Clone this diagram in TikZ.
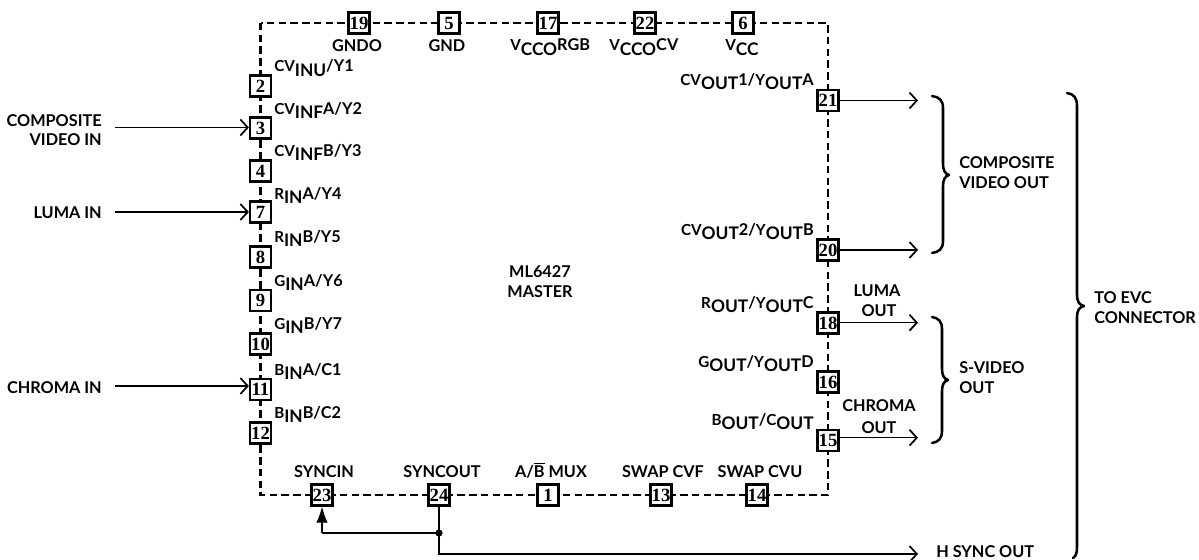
\documentclass[tikz,border=0pt]{standalone}
\usepackage{fontspec}
\usetikzlibrary{arrows.meta}
\setmainfont{Lato}[BoldFont={Lato Bold}]
\newfontfamily\pinfont{Liberation Serif}[BoldFont={Liberation Serif Bold}]
\newcommand{\lo}[1]{\raisebox{-3.5pt}{\fontsize{13pt}{14pt}\selectfont #1}}
\newcommand{\sm}[1]{{\fontsize{11.4pt}{14pt}\selectfont #1}}
\tikzset{
  pin/.style={draw,line width=1.9pt,fill=white,minimum size=15.5pt,inner sep=0pt,font=\pinfont\bfseries\fontsize{14pt}{14pt}\selectfont},
  lab/.style={inner sep=0pt,font=\bfseries\fontsize{12.2pt}{14pt}\selectfont,text depth=0pt},
  lbl/.style={lab,anchor=base west},
  lbr/.style={lab,anchor=base east},
  lbc/.style={lab,anchor=base},
  outer/.style={line width=1.8pt,dash pattern=on 5.6pt off 3.2pt},
  sig/.style={line width=0.9pt,-{Straight Barb[length=5.5pt,width=12pt,line width=1.3pt]}},
  plain/.style={line width=0.9pt},
  bracegl/.style={line width=1.9pt,line cap=round,line join=round}
}
\begin{document}
\begin{tikzpicture}[x=0.75pt,y=-0.75pt]
\useasboundingbox (0,0) rectangle (1199,560);
\draw[outer] (260.5,23) rectangle (828,495);
% left pins
\foreach \n/\y in {2/86,3/128,4/171,7/212,8/257,9/300.5,10/344,11/389.5,12/433}
  \node[pin] (p\n) at (260.5,\y) {\n};
\foreach \n/\x in {19/359,5/449,17/548,22/645,6/743}
  \node[pin] (p\n) at (\x,23) {\n};
\foreach \n/\y in {21/100.5,20/250,18/323,16/382,15/440.5}
  \node[pin] (p\n) at (828,\y) {\n};
\foreach \n/\x in {23/322,24/439,1/548,13/661,14/757}
  \node[pin] (p\n) at (\x,495) {\n};
% pin labels
\node[lbl] (l2) at (274,72) {\sm{CV}\lo{INU}/Y1};
\node[lbl] (l3) at (274,114) {\sm{CV}\lo{INF}A/Y2};
\node[lbl] (l4) at (274,156) {\sm{CV}\lo{INF}B/Y3};
\node[lbl] (l7) at (274,199) {\sm{R}\lo{IN}A/Y4};
\node[lbl] (l8) at (274,242) {\sm{R}\lo{IN}B/Y5};
\node[lbl] (l9) at (274,286) {\sm{G}\lo{IN}A/Y6};
\node[lbl] (l10) at (274,329) {\sm{G}\lo{IN}B/Y7};
\node[lbl] (l11) at (274,375) {\sm{B}\lo{IN}A/C1};
\node[lbl] (l12) at (274,418) {\sm{B}\lo{IN}B/C2};
\node[lbc] (l19) at (357,52) {GNDO};
\node[lbc] (l5) at (447,52) {GND};
\node[lbl] (l17) at (510,51) {\sm{V}\lo{CCO}RGB};
\node[lbl] (l22) at (609,51) {\sm{V}\lo{CCO}CV};
\node[lbl] (l6) at (725,51) {\sm{V}\lo{CC}};
\node[lbr] (l21) at (814,85) {\sm{CV}\lo{OUT}1/\sm{Y}\lo{OUT}A};
\node[lbr] (l20) at (814,235) {\sm{CV}\lo{OUT}2/\sm{Y}\lo{OUT}B};
\node[lbr] (l18) at (814,308) {\sm{R}\lo{OUT}/\sm{Y}\lo{OUT}C};
\node[lbr] (l16) at (814,367) {\sm{G}\lo{OUT}/\sm{Y}\lo{OUT}D};
\node[lbr] (l15) at (814,425) {\sm{B}\lo{OUT}/\sm{C}\lo{OUT}};
\node[lbc] (l23) at (324,477) {SYNCIN};
\node[lbc] (l24) at (442,477) {SYNCOUT};
\node[lbc] (l1) at (551,477) {A/$\overline{\mbox{B}}$ MUX};
\node[lbc] (l13) at (663,477) {SWAP CVF};
\node[lbc] (l14) at (760,477) {SWAP CVU};
\node[lbc] (m1) at (540,277) {ML6427};
\node[lbc] (m2) at (540,297) {MASTER};
% inputs
\node[lbr] (i1a) at (102,126) {COMPOSITE};
\node[lbr] (i1b) at (102,145.5) {VIDEO IN};
\node[lbr] (i2) at (102,218) {LUMA IN};
\node[lbr] (i3) at (102,393) {CHROMA IN};
\coordinate (s3) at (115,127.5);
\coordinate (s7) at (115,212);
\coordinate (s11) at (115,386);
\draw[sig] (s3) -- (s3 -| p3.west);
\draw[sig] (s7) -- (s7 -| p7.west);
\draw[sig] (s11) -- (s11 -| p11.west);
% outputs
\coordinate (t21) at (918,100.5);
\coordinate (t20) at (918,250);
\coordinate (t18) at (918,322.7);
\coordinate (t15) at (918,437.7);
\draw[sig] (t21 -| p21.east) -- (t21);
\draw[sig] (t20 -| p20.east) -- (t20);
\draw[sig] (t18 -| p18.east) -- (t18);
\draw[sig] (t15 -| p15.east) -- (t15);
\node[lbc] (o1) at (877,296) {LUMA};
\node[lbc] (o2) at (879,316) {OUT};
\node[lbc] (o3) at (879,411) {CHROMA};
\node[lbc] (o4) at (879,433) {OUT};
% sync
\coordinate (j) at (439,533);
\coordinate (hs) at (918,554);
\draw[plain] (p24.south) -- (j);
\draw[plain] (j) -- (j -| p23.south) coordinate (k);
\draw[line width=0.9pt,-{Latex[length=12pt,width=8.5pt]}] (k) -- (p23.south);
\draw[sig] (j) |- (hs);
\fill (j) circle (3.6);
\node[lbl] (hl) at (936,557) {H SYNC OUT};
% braces
\draw[bracegl] (932,96) .. controls (939,97) and (943,100) .. (943,108) -- (943,164) .. controls (943,170) and (945,174) .. (949,175) .. controls (945,176) and (943,180) .. (943,186) -- (943,241) .. controls (943,249) and (939,252) .. (932,253);
\draw[bracegl] (932,317) .. controls (938,318) and (942,321) .. (942,329) -- (942,369) .. controls (942,375) and (944,379) .. (948,380) .. controls (944,381) and (942,385) .. (942,391) -- (942,431) .. controls (942,439) and (938,442) .. (932,443);
\draw[bracegl] (1067,93) .. controls (1074,94) and (1077,98) .. (1077,106) -- (1077,295) .. controls (1077,301) and (1079,305) .. (1084,306) .. controls (1079,307) and (1077,311) .. (1077,317) -- (1077,547) .. controls (1077,553) and (1076,556) .. (1073,558);
% brace labels
\node[lbl] (b1a) at (959,168) {COMPOSITE};
\node[lbl] (b1b) at (959,188) {VIDEO OUT};
\node[lbl] (b2a) at (959,373) {S-VIDEO};
\node[lbl] (b2b) at (959,393) {OUT};
\node[lbl] (b3a) at (1094,303) {TO EVC};
\node[lbl] (b3b) at (1094,323) {CONNECTOR};
\end{tikzpicture}
\end{document}
